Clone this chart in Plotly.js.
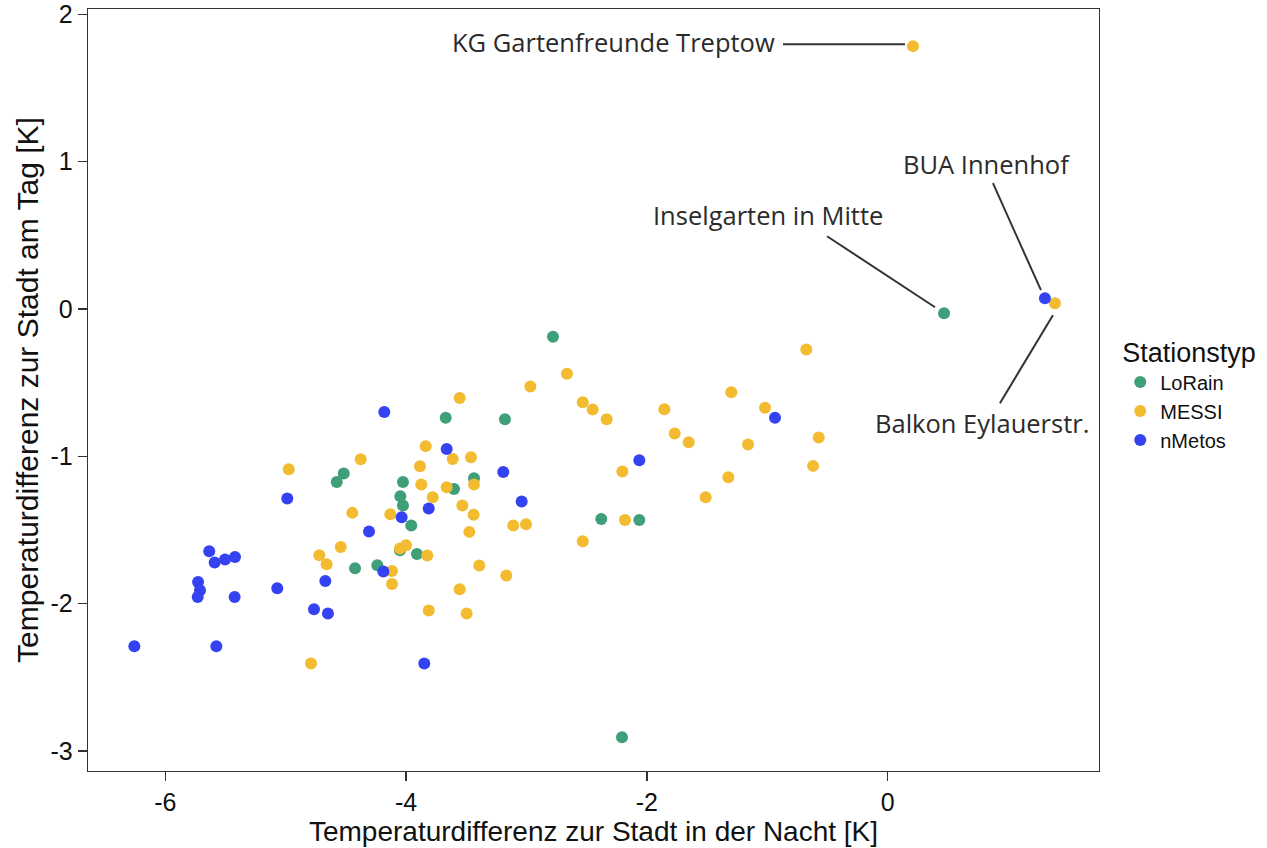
<!DOCTYPE html>
<html>
<head>
<meta charset="utf-8">
<script src="https://cdn.plot.ly/plotly-3.0.1.min.js"></script>
<style>
  html, body { margin: 0; padding: 0; background: #ffffff; }
  #chart { width: 1267px; height: 848px; }
</style>
</head>
<body>
<div id="chart"></div>
<script>
// ---- data ----
const seriesNames = ['LoRain', 'MESSI', 'nMetos'];

const loRainX = [-2.780, -3.671, -3.179, -4.518, -4.576, -4.026, -4.048, -4.026, -3.957, -3.910,
                 -4.051, -4.424, -4.239, -3.436, -3.602, -2.379, -2.063, -2.207, 0.468];
const loRainY = [-0.189, -0.739, -0.748, -1.117, -1.174, -1.174, -1.271, -1.334, -1.470, -1.663,
                 -1.637, -1.760, -1.739, -1.149, -1.222, -1.425, -1.432, -2.907, -0.029];

const messiX = [-4.975, -4.377, -3.837, -3.885, -3.874, -3.779, -4.447, -4.131, -4.543, -4.721,
                -4.660, -4.051, -4.001, -3.824, -4.117, -4.117, -3.812, -4.790, -3.555, -2.664,
                -2.968, -2.533, -2.450, -2.334, -3.613, -3.461, -3.663, -3.436, -3.533, -3.439,
                -3.475, -3.110, -3.004, -2.204, -2.182, -2.533, -3.392, -3.168, -3.555, -3.497,
                -0.676, -1.299, -1.019, -1.855, -1.769, -1.653, -1.160, -0.573, -0.620, -1.324,
                -1.512, 0.210, 1.389];
const messiY = [-1.088, -1.020, -0.931, -1.067, -1.191, -1.278, -1.384, -1.393, -1.615, -1.671,
                -1.733, -1.626, -1.604, -1.673, -1.778, -1.866, -2.047, -2.407, -0.604, -0.440,
                -0.526, -0.633, -0.682, -0.748, -1.018, -1.006, -1.210, -1.191, -1.334, -1.396,
                -1.513, -1.470, -1.461, -1.103, -1.432, -1.576, -1.741, -1.809, -1.902, -2.067,
                -0.275, -0.565, -0.671, -0.680, -0.845, -0.904, -0.920, -0.872, -1.065, -1.142,
                -1.278, 1.784, 0.039];

const nMetosX = [-4.181, -4.987, -5.635, -5.590, -5.504, -5.421, -5.728, -5.712, -5.731, -5.424,
                 -5.070, -4.671, -4.765, -4.649, -6.257, -5.576, -3.849, -4.308, -4.037, -3.812,
                 -4.189, -3.663, -3.193, -3.040, -2.063, -0.936, 1.306];
const nMetosY = [-0.700, -1.287, -1.644, -1.721, -1.701, -1.683, -1.853, -1.909, -1.955, -1.955,
                 -1.895, -1.846, -2.038, -2.067, -2.289, -2.289, -2.407, -1.511, -1.413, -1.355,
                 -1.782, -0.950, -1.106, -1.307, -1.027, -0.739, 0.073];

// labelled stations: text, series and index of the point in that series
const labelTexts  = ['KG Gartenfreunde Treptow', 'Inselgarten in Mitte', 'BUA Innenhof', 'Balkon Eylauerstr.'];
const labelSeries = ['MESSI', 'LoRain', 'nMetos', 'MESSI'];
const labelIndex  = [51, 18, 26, 52];

const xTickVals = [-6, -4, -2, 0];
const yTickVals = [-3, -2, -1, 0, 1, 2];

// ---- styling ----
const colors = { LoRain: '#3f9f79', MESSI: '#f3bb30', nMetos: '#3442f2' };
const seriesData = {
  LoRain: { x: loRainX, y: loRainY },
  MESSI:  { x: messiX,  y: messiY },
  nMetos: { x: nMetosX, y: nMetosY }
};
// pixel offsets for leader lines [x0, y0, x1, y1] (positive y = up) and text shift
const leaderOffsets = [[-130, 2, -8, 2], [-117, 77, -9, 6], [-52, 115, -4, 8], [-55, -100, -2, -12]];
const textShifts = [[-136, 4], [-59, 98], [27, 134], [36, -120]];

const traces = seriesNames.map(name => ({
  type: 'scatter',
  mode: 'markers',
  name: name,
  x: seriesData[name].x,
  y: seriesData[name].y,
  marker: { color: colors[name], size: 12, line: { width: 0 } },
  hoverinfo: 'x+y+name'
}));

const shapes = [];
const annotations = [];
labelTexts.forEach((txt, i) => {
  const s = seriesData[labelSeries[i]];
  const px = s.x[labelIndex[i]], py = s.y[labelIndex[i]];
  const o = leaderOffsets[i];
  shapes.push({
    type: 'line', xref: 'x', yref: 'y',
    xsizemode: 'pixel', ysizemode: 'pixel',
    xanchor: px, yanchor: py,
    x0: o[0], y0: o[1], x1: o[2], y1: o[3],
    line: { color: '#333333', width: 2 }
  });
  annotations.push({
    xref: 'x', yref: 'y', x: px, y: py,
    text: txt, showarrow: false,
    xanchor: 'right', yanchor: 'middle',
    xshift: textShifts[i][0], yshift: textShifts[i][1],
    font: { family: 'Open Sans, sans-serif', size: 25.5, color: '#2b2b2b' }
  });
});

const axisCommon = {
  showgrid: false, zeroline: false,
  showline: true, mirror: true, linecolor: '#333333', linewidth: 1.3,
  ticks: 'outside', ticklen: 9, tickwidth: 1.3, tickcolor: '#333333',
  tickfont: { family: 'Liberation Sans, Arial, sans-serif', size: 25, color: '#111111' }
};

const layout = {
  width: 1267, height: 848,
  paper_bgcolor: '#ffffff', plot_bgcolor: '#ffffff',
  margin: { l: 88, r: 168, t: 9, b: 77, pad: 0 },
  xaxis: Object.assign({}, axisCommon, {
    range: [-6.642, 1.755], tickvals: xTickVals, ticktext: xTickVals.map(String),
    title: { text: 'Temperaturdifferenz zur Stadt in der Nacht [K]', standoff: 5,
             font: { family: 'Liberation Sans, Arial, sans-serif', size: 28, color: '#111111' } }
  }),
  yaxis: Object.assign({}, axisCommon, {
    range: [-3.136, 2.036], tickvals: yTickVals, ticktext: yTickVals.map(String),
    title: { text: 'Temperaturdifferenz zur Stadt am Tag [K]', standoff: 3,
             font: { family: 'Liberation Sans, Arial, sans-serif', size: 30, color: '#111111' } }
  }),
  legend: {
    x: 1.021, xanchor: 'left', y: 0.495, yanchor: 'middle',
    title: { text: 'Stationstyp', font: { family: 'Liberation Sans, Arial, sans-serif', size: 27, color: '#111111' } },
    font: { family: 'Liberation Sans, Arial, sans-serif', size: 20, color: '#111111' },
    itemsizing: 'constant', tracegroupgap: 0, bgcolor: 'rgba(0,0,0,0)'
  },
  shapes: shapes,
  annotations: annotations,
  showlegend: true
};

Plotly.newPlot('chart', traces, layout, { displayModeBar: false, staticPlot: true });
</script>
</body>
</html>
